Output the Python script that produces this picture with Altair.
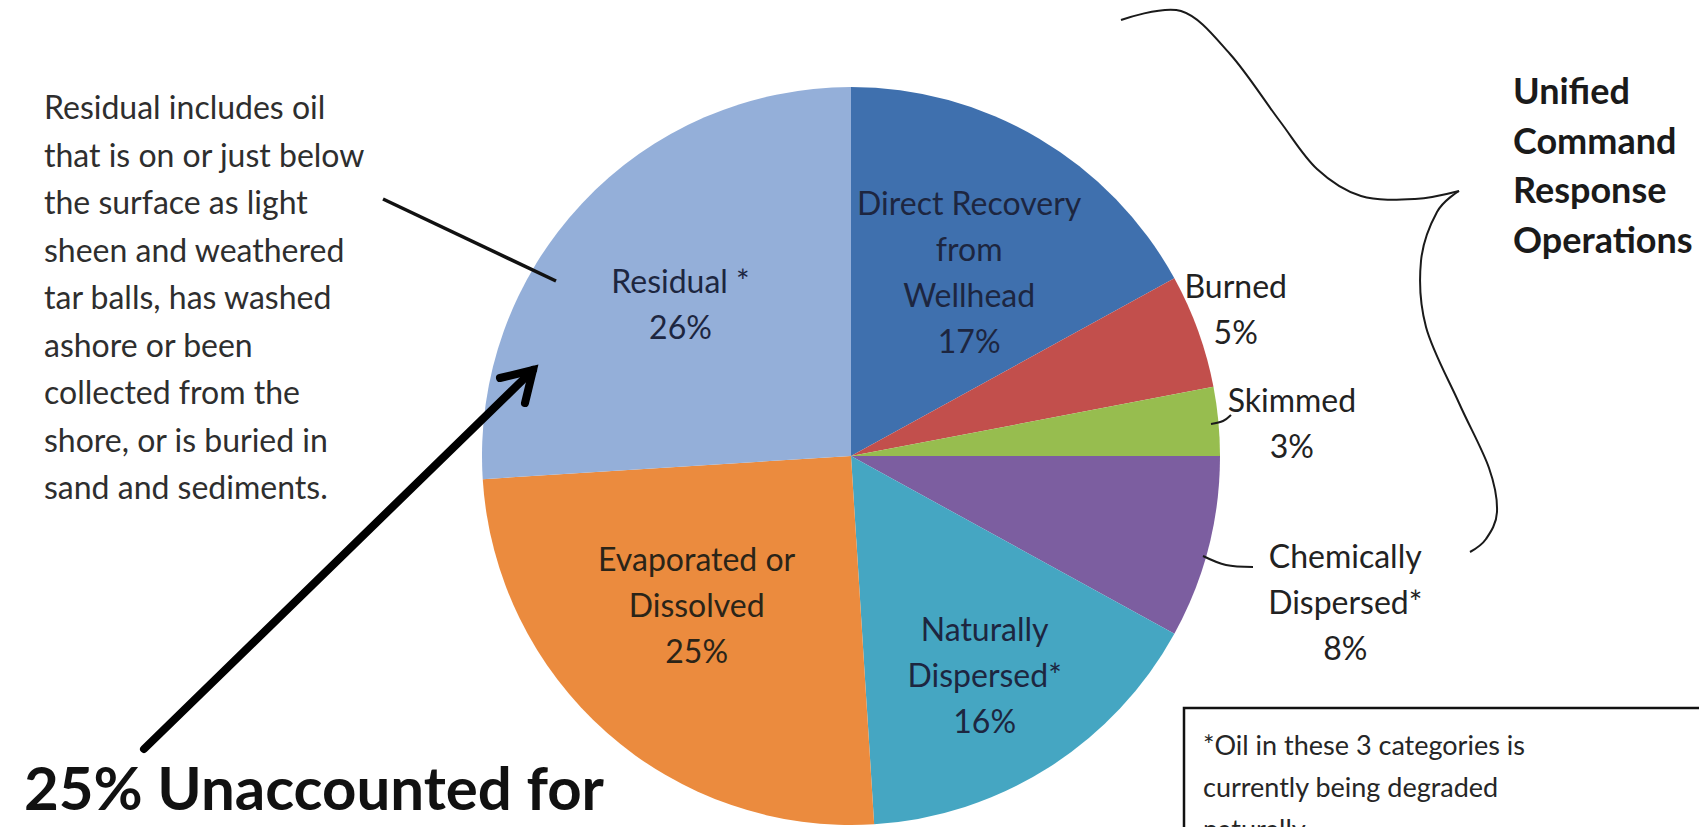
import altair as alt
import pandas as pd

# ---------------- data ----------------
categories = ["Direct Recovery from Wellhead", "Burned", "Skimmed",
              "Chemically Dispersed", "Naturally Dispersed",
              "Evaporated or Dissolved", "Residual"]
percents = [17, 5, 3, 8, 16, 25, 26]
slice_labels = ["Direct Recovery\nfrom\nWellhead\n17%", "Burned\n5%", "Skimmed\n3%",
                "Chemically\nDispersed*\n8%", "Naturally\nDispersed*\n16%",
                "Evaporated or\nDissolved\n25%", "Residual *\n26%"]

note_lines = ["Residual includes oil", "that is on or just below", "the surface as light",
              "sheen and weathered", "tar balls, has washed", "ashore or been",
              "collected from the", "shore, or is buried in", "sand and sediments."]
ops_lines = ["Unified", "Command", "Response", "Operations"]
footnote_lines = ["*Oil in these 3 categories is", "currently being degraded", "naturally."]
headline = "25% Unaccounted for"

# ---------------- styling / layout ----------------
colors = ["#3f70ae", "#c24f4c", "#97bd4f", "#7c5ea0", "#45a6c2", "#eb8b3e", "#94afd9"]
label_radius = [217, 411, 442, 516, 258, 216, 227]
label_turn_deg = [2.4, -0.8, 1.4, 2.3, 1.2, 4.2, -1.9]
label_color = ["#1d2640", "#222222", "#222222", "#222222", "#1d2640", "#2a2418", "#1d2640"]
FONT = "Lato"
OFF = 8
W, H = 1691, 819
CX, CY, R = 851 - OFF, 456 - OFF, 369
LABEL_FS, LABEL_LH = 32, 46

df = pd.DataFrame({
    "category": categories,
    "value": percents,
    "order": list(range(len(categories))),
    "label": slice_labels,
    "r": label_radius,
    "turn": label_turn_deg,
    "tc": label_color,
})

pie = alt.Chart(df).mark_arc(radius=R).encode(
    theta=alt.Theta("value:Q", stack=True),
    order=alt.Order("order:Q"),
    x=alt.value(CX),
    y=alt.value(CY),
    color=alt.Color("category:N", scale=alt.Scale(domain=categories, range=colors), legend=None),
)

pie_text = alt.Chart(df).transform_joinaggregate(
    total="sum(value)"
).transform_window(
    cum="sum(value)", sort=[alt.SortField("order")], frame=[None, 0]
).transform_calculate(
    mid="2*PI*(datum.cum - datum.value/2)/datum.total + datum.turn*PI/180",
    nl="length(split(datum.label, '\\n'))",
).transform_calculate(
    lx=f"{CX} + datum.r*sin(datum.mid)",
    ly=f"{CY} - datum.r*cos(datum.mid) - (datum.nl - 1)*{LABEL_LH}/2",
).mark_text(font=FONT, fontSize=LABEL_FS, lineBreak="\n", lineHeight=LABEL_LH,
            align="center", baseline="middle").encode(
    x=alt.X("lx:Q", scale=None, axis=None),
    y=alt.Y("ly:Q", scale=None, axis=None),
    text="label:N",
    color=alt.Color("tc:N", scale=None),
)

one = pd.DataFrame({"a": [0]})

def text_block(lines, x, y, size, weight="normal", lh=None, align="left", color="#262626", baseline="top"):
    return alt.Chart(one).mark_text(
        font=FONT, fontSize=size, fontWeight=weight, align=align, baseline=baseline,
        lineHeight=lh if lh else size * 1.2, color=color
    ).encode(x=alt.value(x - OFF), y=alt.value(y - OFF), text=alt.value(lines))

note = text_block(note_lines, 44, 94, 32, lh=47.5, color="#2e2e2e")
ops = text_block(ops_lines, 1513, 76, 36, weight="bold", lh=49.7, color="#1a1a1a")
head = text_block([headline], 24, 810, 60, weight="bold", color="#111111", baseline="alphabetic")

# footnote box
box = alt.Chart(one).mark_rect(fill="white", stroke="#111111", strokeWidth=2.5).encode(
    x=alt.value(1184 - OFF), x2=alt.value(1760), y=alt.value(708 - OFF), y2=alt.value(900)
)
foot = text_block(footnote_lines, 1203, 734, 27, lh=42, color="#262626")

# connector lines (annotation geometry)
def path(points, group):
    return [{"x": x - OFF, "y": y - OFF, "g": group, "i": i} for i, (x, y) in enumerate(points)]

brace_top = [(1121, 20), (1181, 11), (1230, 54), (1279, 120), (1317, 169),
             (1361, 196), (1415, 199), (1459, 191)]
brace_bot = [(1459, 191), (1437, 212), (1421, 261), (1426, 327), (1459, 403),
             (1489, 468), (1497, 512), (1486, 539), (1470, 552)]
skim_lead = [(1211, 424), (1223, 421), (1231, 415)]
chem_lead = [(1203, 556), (1226, 565), (1253, 567)]

thin_df = pd.DataFrame(path(brace_top, "bt") + path(brace_bot, "bb") +
                       path(skim_lead, "sl") + path(chem_lead, "cl"))
thin = alt.Chart(thin_df).mark_line(interpolate="cardinal", color="#1a1a1a", strokeWidth=2).encode(
    x=alt.X("x:Q", scale=None, axis=None),
    y=alt.Y("y:Q", scale=None, axis=None),
    detail="g:N", order="i:Q",
)

pointer_df = pd.DataFrame(path([(383, 199), (556, 281)], "p"))
pointer = alt.Chart(pointer_df).mark_line(color="#111111", strokeWidth=3.5).encode(
    x=alt.X("x:Q", scale=None, axis=None), y=alt.Y("y:Q", scale=None, axis=None),
    detail="g:N", order="i:Q",
)

arrow_df = pd.DataFrame(path([(144, 749), (533, 370)], "a") +
                        path([(500, 378), (533, 370), (525, 403)], "h"))
arrow = alt.Chart(arrow_df).mark_line(color="#000000", strokeWidth=8, strokeCap="round",
                                      strokeJoin="miter").encode(
    x=alt.X("x:Q", scale=None, axis=None), y=alt.Y("y:Q", scale=None, axis=None),
    detail="g:N", order="i:Q",
)

chart = alt.layer(pie, pie_text, note, ops, head, box, foot, thin, pointer, arrow).properties(
    width=W, height=H, padding=0,
    autosize=alt.AutoSizeParams(type="none"),
    background="white",
).configure_view(stroke=None)

chart.save("out.html", embed_options={"renderer": "svg", "actions": False})
